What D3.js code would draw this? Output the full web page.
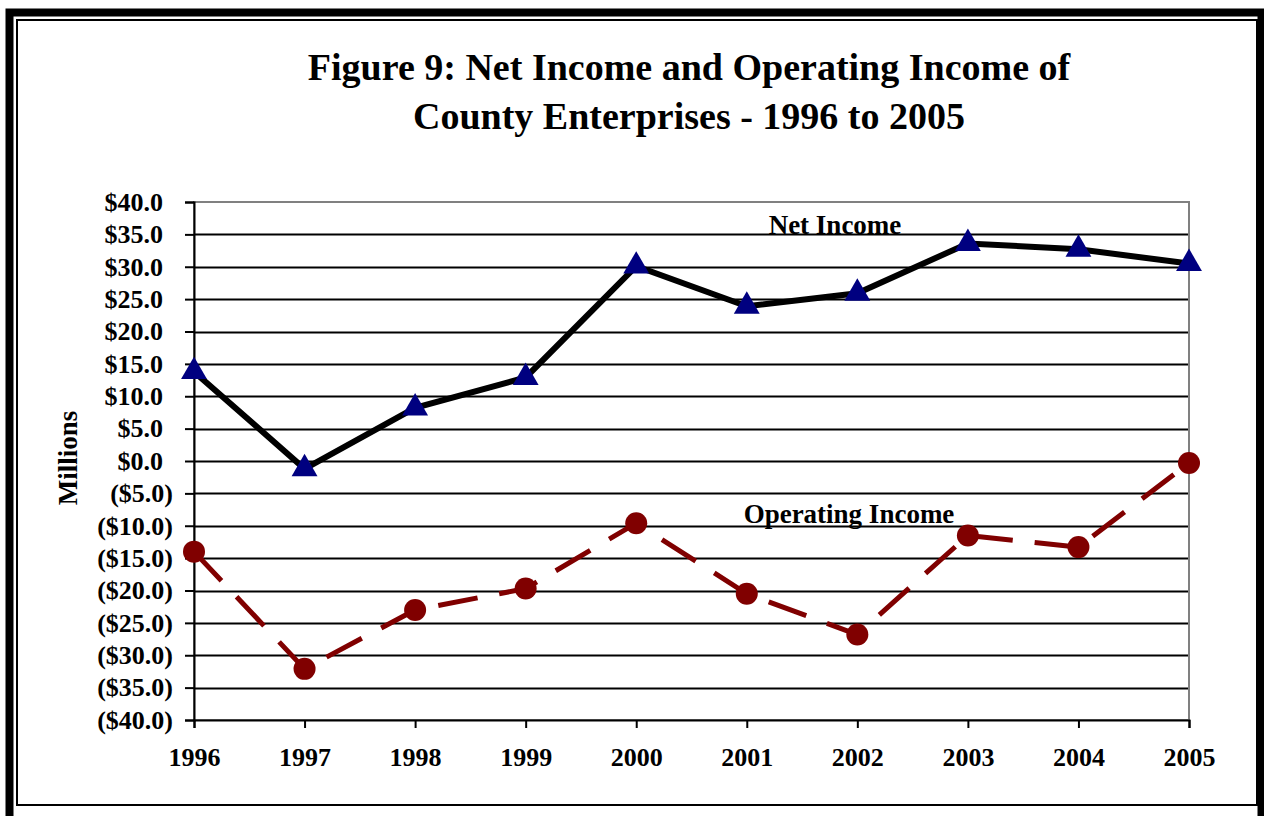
<!DOCTYPE html>
<html lang="en">
<head>
    <meta charset="UTF-8">
    <title>Figure 9: Net Income and Operating Income of County Enterprises</title>
    <script src="https://d3js.org/d3.v7.min.js"></script>
    <style>
        body { margin: 0; background: #fff; }
        svg { display: block; font-family: "Liberation Serif", "Times New Roman", serif; font-weight: bold; }
    </style>
</head>
<body>
    <div id="chart"></div>
    <script>
        const years = [1996, 1997, 1998, 1999, 2000, 2001, 2002, 2003, 2004, 2005];
        const netIncome = [13.8, -1.2, 8.2, 12.9, 30.1, 23.9, 25.9, 33.6, 32.7, 30.5];
        const operatingIncome = [-14.0, -32.1, -23.0, -19.7, -9.6, -20.5, -26.8, -11.5, -13.3, -0.3];
        const yTicks = d3.range(-40, 40.1, 5);

        const W = 1264, H = 816;
        const plot = { left: 194, right: 1189, top: 202, bottom: 720 };

        const svg = d3.select("#chart").append("svg")
            .attr("width", W).attr("height", H);

        // frame: thick outer, thin inner
        svg.append("rect").attr("x", 9.5).attr("y", 12.5).attr("width", 1252).attr("height", 820)
            .attr("fill", "none").attr("stroke", "#000").attr("stroke-width", 8);
        svg.append("rect").attr("x", 17).attr("y", 20).attr("width", 1240).attr("height", 785)
            .attr("fill", "none").attr("stroke", "#000").attr("stroke-width", 2);

        // title
        const title = svg.append("text").attr("text-anchor", "middle").attr("font-size", 38);
        title.append("tspan").attr("x", 689).attr("y", 80).text("Figure 9: Net Income and Operating Income of");
        title.append("tspan").attr("x", 689).attr("y", 129).text("County Enterprises - 1996 to 2005");

        const x = d3.scalePoint().domain(years).range([plot.left, plot.right]);
        const y = d3.scaleLinear().domain([-40, 40]).range([plot.bottom, plot.top]);

        // gridlines
        svg.append("g").selectAll("line").data(yTicks.filter(d => d > -40 && d < 40)).join("line")
            .attr("x1", plot.left).attr("x2", plot.right)
            .attr("y1", d => Math.round(y(d)) + 0.5).attr("y2", d => Math.round(y(d)) + 0.5)
            .attr("stroke", "#000").attr("stroke-width", 2);

        // plot border (gray)
        svg.append("rect").attr("x", plot.left).attr("y", plot.top)
            .attr("width", plot.right - plot.left).attr("height", plot.bottom - plot.top)
            .attr("fill", "none").attr("stroke", "#808080").attr("stroke-width", 2);

        // y axis
        const yAxis = svg.append("g").attr("transform", `translate(${plot.left},0)`)
            .call(d3.axisLeft(y).tickValues(yTicks).tickSize(9).tickPadding(12)
                .tickFormat(d => d < 0 ? `($${Math.abs(d).toFixed(1)})` : `$${d.toFixed(1)}`))
            .attr("font-family", null).attr("font-size", null);
        yAxis.select(".domain").attr("stroke", "#000").attr("stroke-width", 2);
        yAxis.selectAll(".tick line").attr("stroke", "#000").attr("stroke-width", 2);
        yAxis.selectAll(".tick text").attr("font-size", 26).attr("fill", "#000")
            .attr("x", d => d < 0 ? -21 : -31);

        // x axis
        const xAxis = svg.append("g").attr("transform", `translate(0,${plot.bottom})`)
            .call(d3.axisBottom(x).tickSize(8).tickPadding(20))
            .attr("font-family", null).attr("font-size", null);
        xAxis.select(".domain").attr("stroke", "#000").attr("stroke-width", 2);
        xAxis.selectAll(".tick line").attr("stroke", "#000").attr("stroke-width", 2);
        xAxis.selectAll(".tick text").attr("font-size", 26).attr("fill", "#000");

        // y label
        svg.append("text").attr("transform", "translate(77,458) rotate(-90)")
            .attr("text-anchor", "middle").attr("font-size", 27).text("Millions");

        const line = d3.line().x((d, i) => x(years[i])).y(d => y(d));

        // operating income
        svg.append("path").datum(operatingIncome).attr("d", line)
            .attr("fill", "none").attr("stroke", "#800000").attr("stroke-width", 5)
            .attr("stroke-dasharray", "40,22");
        svg.append("g").selectAll("circle").data(operatingIncome).join("circle")
            .attr("cx", (d, i) => x(years[i])).attr("cy", d => y(d)).attr("r", 11)
            .attr("fill", "#800000");

        // net income
        svg.append("path").datum(netIncome).attr("d", line)
            .attr("fill", "none").attr("stroke", "#000").attr("stroke-width", 6);
        const tri = d3.symbol().type(d3.symbolTriangle).size(290);
        svg.append("g").selectAll("path").data(netIncome).join("path")
            .attr("d", tri)
            .attr("transform", (d, i) => `translate(${x(years[i])},${y(d)})`)
            .attr("fill", "#000080");

        // series labels
        svg.append("text").attr("x", 835).attr("y", 234).attr("text-anchor", "middle")
            .attr("font-size", 27).text("Net Income");
        svg.append("text").attr("x", 849).attr("y", 523).attr("text-anchor", "middle")
            .attr("font-size", 27).text("Operating Income");
    </script>
</body>
</html>
